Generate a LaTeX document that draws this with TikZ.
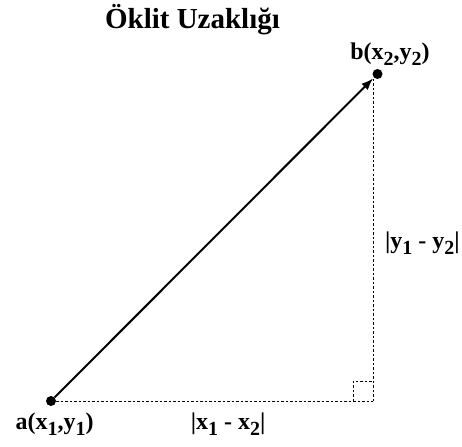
\documentclass[tikz,border=0pt]{standalone}
\usepackage{fontspec}
\setmainfont{Liberation Serif}
\usepackage{tikz}
\usetikzlibrary{arrows.meta,positioning}

\newcommand{\idx}[1]{\raisebox{-6pt}{\fontsize{20pt}{20pt}\selectfont #1}}

\begin{document}
\begin{tikzpicture}[
  x=1pt, y=-1pt,
  dot/.style={circle,fill=black,inner sep=0pt,minimum size=10pt},
  lbl/.style={inner sep=0pt,font=\fontsize{24pt}{28pt}\selectfont\bfseries},
  ttl/.style={inner sep=0pt,font=\fontsize{29pt}{34pt}\selectfont\bfseries},
  vec/.style={-{Latex[length=12pt,width=9pt]}, line width=2pt, shorten >=1pt},
  guide/.style={dash pattern=on 2.5pt off 2pt, line width=1pt}
]
\useasboundingbox (0,0) rectangle (462,446);

\node[ttl, anchor=base] (title) at (192.5,29) {Öklit Uzaklığı};

\node[dot] (a) at (51,401) {};
\node[dot] (b) at (377.5,74) {};
\coordinate (c) at (373,401);

\node[lbl, below=6pt of a, xshift=3.5pt] (la) {a(x\idx{1},y\idx{1})};
\node[lbl, above=3pt of b, xshift=12.5pt] (lb) {b(x\idx{2},y\idx{2})};
\node[lbl, base right=97pt of la] (lx) {|x\idx{1} - x\idx{2}|};
\node[lbl, anchor=base west] (ly) at (385,248) {|y\idx{1} - y\idx{2}|};

\draw[guide] (a) -- (c);
\draw[guide] (c) -- (c |- b.south);
\draw[guide] (c) ++(-20,0) -- ++(0,-20) -- ++(20,0);
\draw[vec] (a) -- (b);
\end{tikzpicture}
\end{document}
